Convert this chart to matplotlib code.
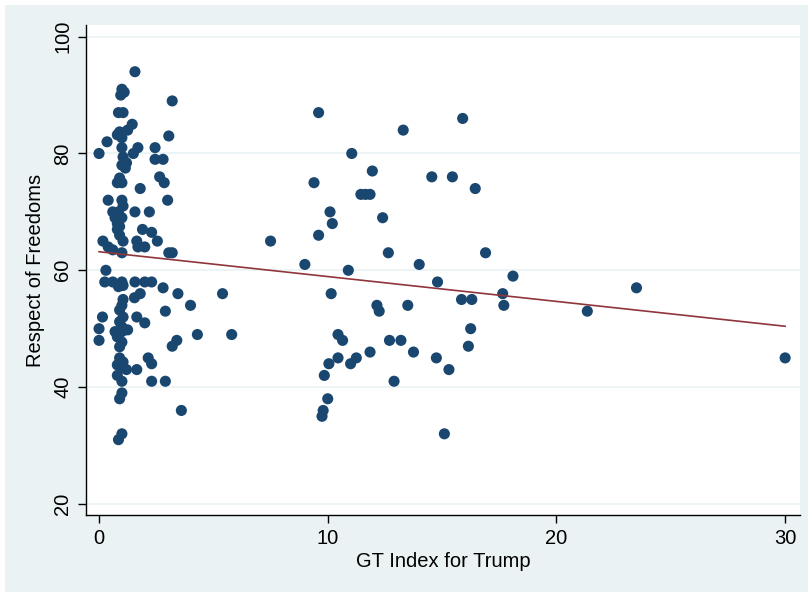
import numpy as np
import matplotlib
matplotlib.use("Agg")
import matplotlib.pyplot as plt
from matplotlib.patches import Rectangle

# GT index for Trump (x) and respect of freedoms (y)
gt_index = [
    1.57, 1.0, 1.1, 0.95, 3.2, 0.85, 1.05, 1.45, 1.25, 0.9, 0.8, 1.0,
    3.05, 0.35, 0.0, 1.0, 1.7, 1.5, 2.45, 1.05, 1.2, 1.0, 1.15, 2.45, 2.8,
    2.65, 2.85, 0.9, 0.8, 1.0, 1.8, 0.4, 1.0, 1.05, 0.85, 3.0, 1.57, 2.2,
    0.6, 0.7, 1.0, 0.8, 0.9, 0.8, 0.9, 1.05, 1.9, 2.3, 2.55, 1.65, 1.7,
    2.0, 0.17, 0.4, 0.6, 1.0, 3.2, 3.05, 0.3,
    0.25, 0.6, 1.0, 1.57, 2.0, 2.3, 0.85, 1.05, 2.8, 3.45, 1.8, 1.55,
    4.0, 2.9, 1.05, 1.0, 0.9, 1.05, 0.9, 1.0, 0.15, 1.65, 2.0, 0.0, 0.0,
    0.7, 1.0, 1.25, 0.8, 1.0, 0.9, 3.2, 3.4, 4.3, 5.8, 5.4,
    0.9, 1.05, 0.8, 1.0, 1.2, 1.65, 2.15, 2.3, 0.8, 1.0, 2.3, 2.9,
    1.0, 0.9, 3.6, 1.0, 0.85,
    9.6, 11.05, 11.95, 9.4, 11.45, 11.65, 11.85, 10.1, 10.2, 12.4, 9.6,
    7.5, 12.65, 9.0, 10.9, 10.15, 12.15, 12.25, 10.45, 10.65, 12.7, 13.2,
    11.85, 10.45, 11.25, 11.0, 10.05, 9.85, 12.9, 10.0, 9.8, 9.75,
    15.9, 13.3, 14.55, 15.45, 16.45, 16.9, 14.0, 14.8, 18.1, 15.85, 16.3,
    17.65, 17.7, 13.5, 16.25, 16.15, 13.75, 14.75, 15.3, 15.1,
    23.5, 21.35, 30.0,
]
freedoms = [
    94, 91, 90.5, 90, 89, 87, 87, 85, 84, 83.7, 83.2, 82.7,
    83, 82, 80, 81, 81, 80, 81, 79.4, 78.4, 78, 77.5, 79, 79,
    76, 75, 75.8, 75, 75, 74, 72, 72, 71, 70, 72, 70, 70,
    70, 69, 69, 68, 67.5, 67, 66, 65, 67, 66.5, 65, 65, 64,
    64, 65, 64, 63.5, 63, 63, 63, 60,
    58, 58, 58, 58, 58, 58, 57.2, 57.4, 57, 56, 56, 55.3,
    54, 53, 55, 54, 53.2, 52, 51.2, 50.3, 52, 52, 51, 50, 48,
    49.5, 49.5, 49.8, 48.6, 47.7, 46.9, 47, 48, 49, 49, 56,
    45, 44.3, 43.8, 43.3, 43, 43, 45, 44, 42, 41, 41, 41,
    39, 38, 36, 32, 31,
    87, 80, 77, 75, 73, 73, 73, 70, 68, 69, 66,
    65, 63, 61, 60, 56, 54, 53, 49, 48, 48, 48,
    46, 45, 45, 44, 44, 42, 41, 38, 36, 35,
    86, 84, 76, 76, 74, 63, 61, 58, 59, 55, 55,
    56, 54, 54, 50, 47, 46, 45, 43, 32,
    57, 53, 45,
]

x_ticks = [0, 10, 20, 30]
y_ticks = [20, 40, 60, 80, 100]

navy = "#1a476f"
maroon = "#90353b"
bg = "#eaf2f3"

plt.rcParams["font.family"] = ["Liberation Sans", "DejaVu Sans"]

fig = plt.figure(figsize=(8.08, 5.92), dpi=100, facecolor="white")
# light blue-grey graph region (Stata s2color look)
fig.patches.append(Rectangle((5 / 808, 0), 1, (592 - 5) / 592,
                             transform=fig.transFigure, facecolor=bg,
                             edgecolor="none", zorder=-10))

ax = fig.add_axes([86 / 808, 77 / 592, 714 / 808, 490 / 592])
ax.set_zorder(5)
ax.set_facecolor("white")

x = np.array(gt_index)
y = np.array(freedoms)

ax.scatter(x, y, s=64, color=navy, edgecolors="none", zorder=3)

# linear fit over the data range
b, a = np.polyfit(x, y, 1)
xs = np.array([x.min(), x.max()])
ax.plot(xs, a + b * xs, color=maroon, lw=1.2, zorder=4)

ax.set_xlim(-0.57, 30.65)
ax.set_ylim(18.1, 102.0)
ax.set_xticks(x_ticks)
ax.set_yticks(y_ticks)
ax.set_yticklabels([str(t) for t in y_ticks], rotation=90, va="center")
ax.grid(axis="y", color=bg, lw=1.2, zorder=0)
ax.set_axisbelow(True)

for s in ["top", "right"]:
    ax.spines[s].set_visible(False)
for s in ["left", "bottom"]:
    ax.spines[s].set_color("black")
    ax.spines[s].set_linewidth(1.0)

ax.tick_params(direction="out", length=6, width=1.0, labelsize=14.5, pad=4)
ax.set_xlabel("GT Index for Trump", fontsize=14.5, labelpad=3)
ax.set_ylabel("Respect of Freedoms", fontsize=14.5, labelpad=6)

fig.savefig("out.png", dpi=100, facecolor=fig.get_facecolor())
